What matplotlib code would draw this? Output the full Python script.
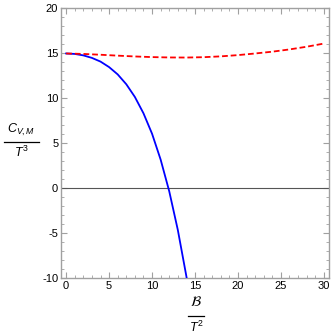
import matplotlib
matplotlib.use("Agg")
import matplotlib.pyplot as plt
from matplotlib.ticker import MultipleLocator
from matplotlib.lines import Line2D

plt.rcParams['font.family'] = ['Liberation Sans', 'DejaVu Sans']
plt.rcParams['mathtext.fontset'] = 'custom'
plt.rcParams['mathtext.it'] = 'Liberation Sans:italic'
plt.rcParams['mathtext.rm'] = 'Liberation Sans'
plt.rcParams['axes.unicode_minus'] = False

# Data
b_blue = [0, 1, 2, 3, 4, 5, 6, 7, 8, 9, 10, 11, 12, 13, 14, 14.2]
c_blue = [14.9, 14.85, 14.69, 14.41, 14.0, 13.39, 12.58, 11.49, 10.08, 8.27,
          6.0, 3.13, -0.38, -4.67, -9.83, -10.97]
b_red = [0, 2, 4, 6, 8, 10, 12, 14, 16, 18, 20, 22, 24, 26, 28, 30]
c_red = [14.9, 14.85, 14.76, 14.66, 14.57, 14.5, 14.46, 14.45, 14.49, 14.58,
         14.72, 14.9, 15.1, 15.35, 15.65, 16.0]
x_ticks = [0, 5, 10, 15, 20, 25, 30]
y_ticks = [-10, -5, 0, 5, 10, 15, 20]

W, H = 332, 335
fig = plt.figure(figsize=(W / 100, H / 100), dpi=100)
ax = fig.add_axes([61 / W, (H - 278) / H, (329 - 61) / W, (278 - 7.5) / H])

ax.plot(b_blue, c_blue, color='#0000ff', lw=1.3, zorder=3)
ax.plot(b_red, c_red, color='#ff0000', lw=1.3, ls=(0, (3.2, 1.6)), zorder=4)
ax.axhline(0, color='#555555', lw=0.8, zorder=2)

ax.set_xlim(-0.6, 30.6)
ax.set_ylim(-10, 20)
ax.set_xticks(x_ticks)
ax.set_yticks(y_ticks)
ax.xaxis.set_minor_locator(MultipleLocator(1))
ax.yaxis.set_minor_locator(MultipleLocator(1))

gray = '#a0a0a0'
for s in ax.spines.values():
    s.set_color(gray)
    s.set_linewidth(1.0)
ax.tick_params(which='both', direction='in', color=gray, top=True, right=True,
               labelsize=8, labelcolor='black', pad=2)
ax.tick_params(which='major', length=4, width=0.8)
ax.tick_params(which='minor', length=2, width=0.6)


def px(x, y):
    return x / W, 1 - y / H


# y label: C_{V,M} / T^3
fig.text(*px(21, 130), r'$C_{V,M}$', ha='center', va='center', fontsize=9)
fig.add_artist(Line2D([4 / W, 39 / W], [1 - 142 / H] * 2, color='black', lw=0.9))
fig.text(*px(21, 152), r'$T^3$', ha='center', va='center', fontsize=9)

# x label: B / T^2
fig.text(*px(196, 302), r'$\mathcal{B}$', ha='center', va='center', fontsize=10,
         math_fontfamily='stixsans')
fig.add_artist(Line2D([188 / W, 204 / W], [1 - 316 / H] * 2, color='black', lw=0.9))
fig.text(*px(196, 327), r'$T^2$', ha='center', va='center', fontsize=9)

fig.savefig('out.png', dpi=100)
